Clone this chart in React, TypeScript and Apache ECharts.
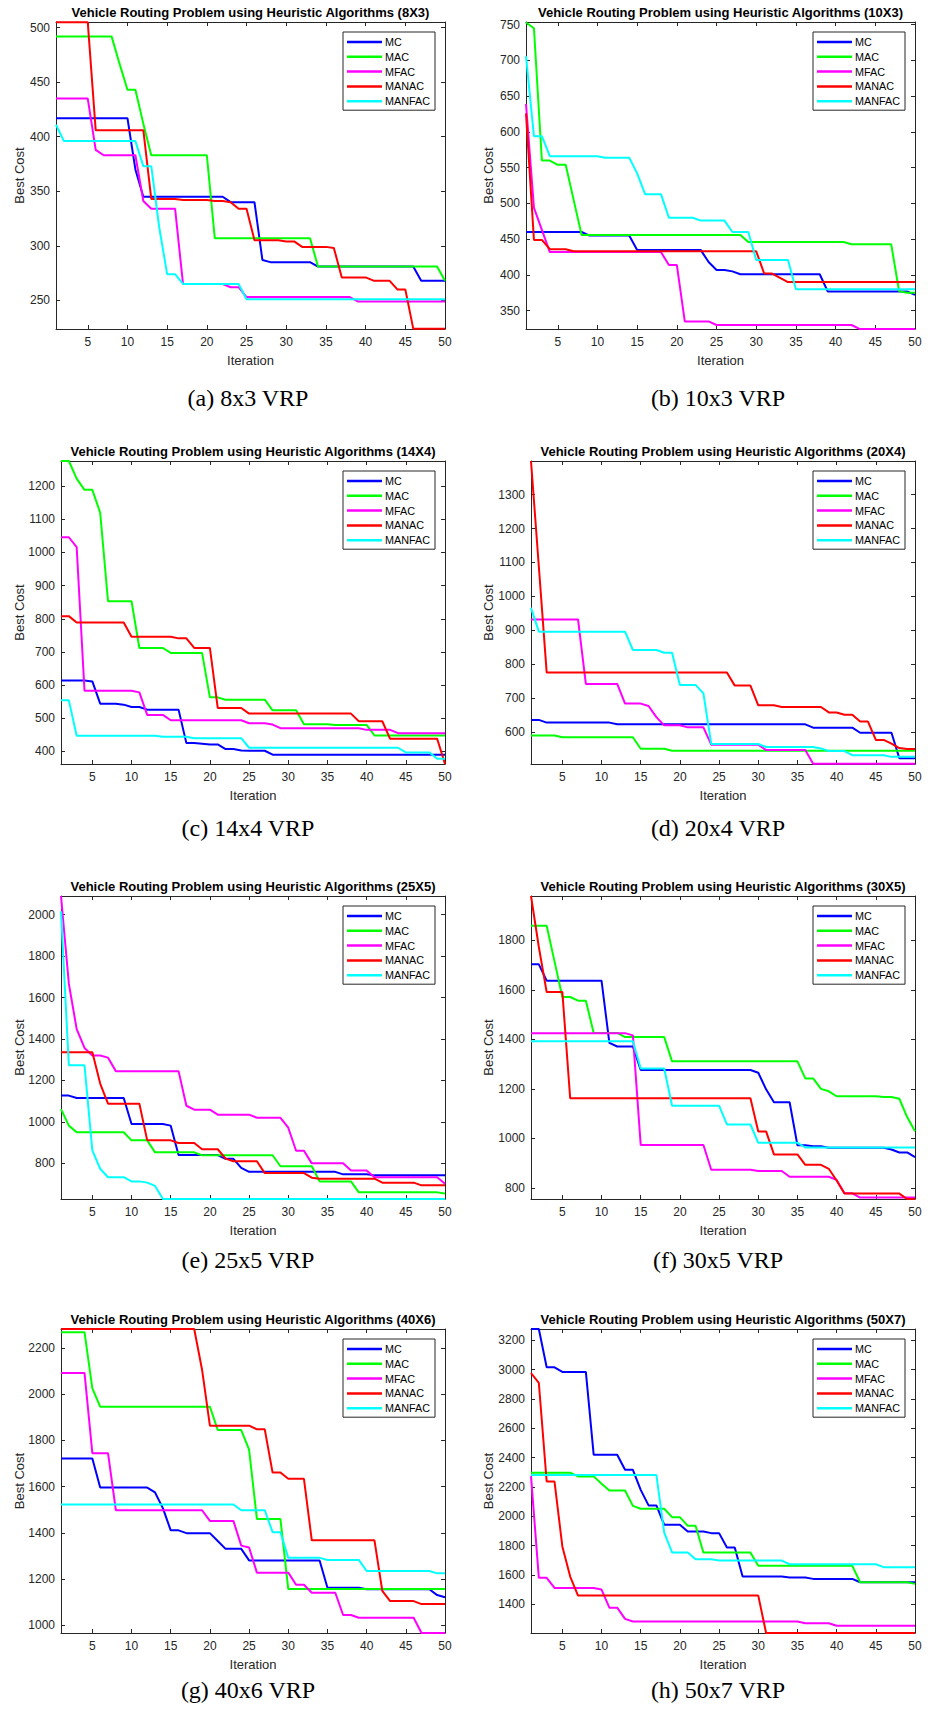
import React, { useEffect, useRef } from "react";
import * as echarts from "echarts";

const ITERATIONS = [1,2,3,4,5,6,7,8,9,10,11,12,13,14,15,16,17,18,19,20,21,22,23,24,25,26,27,28,29,30,31,32,33,34,35,36,37,38,39,40,41,42,43,44,45,46,47,48,49,50];
const X_TICKS = [5,10,15,20,25,30,35,40,45,50];
const SERIES_NAMES = ["MC","MAC","MFAC","MANAC","MANFAC"];
const SERIES_COLORS = ["#0000ff","#00ff00","#ff00ff","#ff0000","#00ffff"];
const TITLES = [
  "Vehicle Routing Problem using Heuristic Algorithms (8X3)",
  "Vehicle Routing Problem using Heuristic Algorithms (10X3)",
  "Vehicle Routing Problem using Heuristic Algorithms (14X4)",
  "Vehicle Routing Problem using Heuristic Algorithms (20X4)",
  "Vehicle Routing Problem using Heuristic Algorithms (25X5)",
  "Vehicle Routing Problem using Heuristic Algorithms (30X5)",
  "Vehicle Routing Problem using Heuristic Algorithms (40X6)",
  "Vehicle Routing Problem using Heuristic Algorithms (50X7)"
];
const CAPTIONS = ["(a) 8x3 VRP","(b) 10x3 VRP","(c) 14x4 VRP","(d) 20x4 VRP","(e) 25x5 VRP","(f) 30x5 VRP","(g) 40x6 VRP","(h) 50x7 VRP"];
const Y_MIN = [223.7, 324.4, 362, 506, 628, 755, 967, 1204];
const Y_MAX = [505.2, 753.7, 1276, 1399, 2090, 1979, 2282, 3277];
const Y_TICKS = [
  [250,300,350,400,450,500],
  [350,400,450,500,550,600,650,700,750],
  [400,500,600,700,800,900,1000,1100,1200],
  [600,700,800,900,1000,1100,1200,1300],
  [800,1000,1200,1400,1600,1800,2000],
  [800,1000,1200,1400,1600,1800],
  [1000,1200,1400,1600,1800,2000,2200],
  [1400,1600,1800,2000,2200,2400,2600,2800,3000,3200]
];

// (a) 8x3
const mc8x3 = [417,417,417,417,417,417,417,417,417,417, 370,345,345,345,345,345,345,345,345,345, 345,345,340,340,340,340,287,285,285,285, 285,285,285,281,281,281,281,281,281,281, 281,281,281,281,281,281,268,268,268,268];
const mac8x3 = [492,492,492,492,492,492,492,492,467,443, 443,412,383,383,383,383,383,383,383,383, 307,307,307,307,307,307,307,307,307,307, 307,307,307,281,281,281,281,281,281,281, 281,281,281,281,281,281,281,281,281,268];
const mfac8x3 = [435,435,435,435,435,388,383,383,383,383, 383,341,334,334,334,334,265,265,265,265, 265,265,262,262,253,253,253,253,253,253, 253,253,253,253,253,253,253,253,249,249, 249,249,249,249,249,249,249,249,249,249];
const manac8x3 = [505,505,505,505,505,406,406,406,406,406, 406,406,343,343,343,343,342,342,342,342, 341,341,340,334,334,305,305,305,305,304, 304,299,299,299,299,298,271,271,271,271, 268,268,268,260,260,224,224,224,224,224];
const manfac8x3 = [411,396,396,396,396,396,396,396,396,396, 396,373,373,317,274,274,265,265,265,265, 265,265,265,265,251,251,251,251,251,251, 251,251,251,251,251,251,251,251,251,251, 251,251,251,251,251,251,251,251,251,251];

// (b) 10x3
const mc10x3 = [460,460,460,460,460,460,460,460,455,455, 455,455,455,455,435,435,435,435,435,435, 435,435,435,418,407,407,405,401,401,401, 401,401,401,401,401,401,401,401,377,377, 377,377,377,377,377,377,377,377,377,372];
const mac10x3 = [753,745,560,560,554,554,505,456,456,456, 456,456,456,456,456,456,456,456,456,456, 456,456,456,456,456,456,456,456,446,446, 446,446,446,446,446,446,446,446,446,446, 446,443,443,443,443,443,443,377,375,375];
const mfac10x3 = [639,494,463,432,432,432,432,432,432,432, 432,432,432,432,432,432,432,432,414,414, 335,335,335,335,330,330,330,330,330,330, 330,330,330,330,330,330,330,330,330,330, 330,330,324.5,324.5,324.5,324.5,324.5,324.5,324.5,324.5];
const manac10x3 = [626,449,449,436,436,436,433,433,433,433, 433,433,433,433,433,433,433,433,433,433, 433,433,433,433,433,433,433,433,433,433, 402,402,396,390,390,390,390,390,390,390, 390,390,390,390,390,390,390,390,390,390];
const manfac10x3 = [706,594,594,566,566,566,566,566,566,566, 564,564,564,564,542,513,513,513,480,480, 480,480,476,476,476,476,460,460,460,421, 421,421,421,421,380,380,380,380,380,380, 380,380,380,380,380,380,380,380,380,380];

// (c) 14x4
const mc14x4 = [614,614,614,614,611,544,544,544,541,534, 534,526,526,526,526,526,425,425,423,421, 421,407,407,403,402,402,402,390,390,390, 390,390,390,390,390,390,390,390,390,390, 390,390,390,390,390,390,390,390,390,390];
const mac14x4 = [1276,1276,1223,1189,1189,1120,853,853,853,853, 712,712,712,712,697,697,697,697,697,563, 563,556,556,556,556,556,556,524,524,524, 524,482,482,482,482,480,480,480,480,480, 448,448,448,448,448,448,448,448,448,448];
const mfac14x4 = [1046,1046,1016,583,583,583,583,583,583,583, 578,510,510,510,494,494,494,494,494,494, 494,494,494,494,485,485,485,481,470,470, 470,470,470,470,470,470,470,470,470,465, 465,465,465,455,455,455,455,455,455,455];
const manac14x4 = [808,808,789,789,789,789,789,789,789,746, 746,746,746,746,746,741,741,712,712,712, 531,531,531,531,514,514,514,514,514,514, 514,514,514,514,514,514,514,514,491,491, 491,491,438,438,438,438,438,438,438,362];
const manfac14x4 = [554,554,447,447,447,447,447,447,447,447, 447,447,447,444,444,444,444,440,440,440, 440,440,440,440,411,411,411,411,411,411, 411,411,411,411,411,411,411,411,411,411, 411,411,411,411,397,397,397,397,378,378];

// (d) 20x4
const mc20x4 = [636,636,628,628,628,628,628,628,628,628, 628,623,623,623,623,623,623,623,623,623, 623,623,623,623,623,623,623,623,623,623, 623,623,623,623,623,623,613,613,613,613, 613,613,598,598,598,598,598,523,523,523];
const mac20x4 = [590,590,590,590,585,585,585,585,585,585, 585,585,585,585,551,551,551,551,545,545, 545,545,545,545,545,545,545,545,545,545, 545,545,545,545,545,545,545,545,545,545, 545,545,545,545,545,545,545,545,545,545];
const mfac20x4 = [932,932,932,932,932,932,932,742,742,742, 742,742,684,684,684,677,644,620,620,620, 614,614,614,563,563,563,563,563,563,563, 547,547,547,547,547,547,507,507,507,507, 507,507,507,507,507,507,507,507,507,507];
const manac20x4 = [1399,1088,776,776,776,776,776,776,776,776, 776,776,776,776,776,776,776,776,776,776, 776,776,776,776,776,776,737,737,737,679, 679,679,674,674,674,674,674,674,658,658, 651,651,631,631,577,577,566,553,550,550];
const manfac20x4 = [966,896,896,896,896,896,896,896,896,896, 896,896,896,842,842,842,842,834,834,739, 739,739,714,565,565,565,565,565,565,565, 556,556,556,556,556,556,556,552,544,544, 544,532,532,532,532,532,527,527,527,527];

// (e) 25x5
const mc25x5 = [1127,1127,1115,1115,1115,1115,1115,1115,1115,990, 990,990,990,990,982,840,840,840,840,840, 840,822,822,778,759,759,759,759,759,759, 759,759,759,759,759,759,747,747,747,747, 742,742,742,742,742,742,742,742,742,742];
const mac25x5 = [1062,982,950,950,950,950,950,950,950,911, 911,911,853,853,853,853,853,853,839,839, 839,839,839,839,839,839,839,839,786,786, 786,786,786,713,713,713,713,713,660,660, 660,660,660,660,660,660,660,660,660,654];
const mfac25x5 = [2090,1667,1448,1357,1320,1320,1310,1245,1245,1245, 1245,1245,1245,1245,1245,1245,1078,1059,1059,1059, 1035,1035,1035,1035,1035,1020,1020,1020,1020,972, 861,861,800,800,800,800,800,766,766,766, 733,733,733,733,733,733,733,733,733,702];
const manac25x5 = [1336,1336,1336,1336,1336,1185,1088,1088,1088,1088, 1088,911,911,911,911,898,898,898,868,868, 868,823,810,810,810,810,753,753,753,753, 753,753,731,726,726,726,726,726,726,726, 726,707,707,707,707,707,694,694,694,694];
const manfac25x5 = [2016,1273,1273,1273,863,774,733,733,733,713, 713,707,691,628,628,628,628,628,628,628, 628,628,628,628,628,628,628,628,628,628, 628,628,628,628,628,628,628,628,628,628, 628,628,628,628,628,628,628,628,628,628];

// (f) 30x5
const mc30x5 = [1703,1703,1637,1637,1637,1637,1637,1637,1637,1637, 1386,1371,1371,1371,1276,1276,1276,1276,1276,1276, 1276,1276,1276,1276,1276,1276,1276,1276,1276,1265, 1198,1146,1146,1146,972,972,968,968,962,962, 962,962,962,962,962,962,955,943,943,924];
const mac30x5 = [1859,1859,1859,1715,1571,1571,1556,1556,1426,1426, 1426,1426,1409,1409,1409,1409,1409,1409,1311,1311, 1311,1311,1311,1311,1311,1311,1311,1311,1311,1311, 1311,1311,1311,1311,1311,1242,1242,1200,1190,1170, 1170,1170,1170,1170,1170,1167,1167,1160,1086,1029];
const mfac30x5 = [1425,1425,1425,1425,1425,1425,1425,1425,1425,1425, 1425,1425,1425,1416,973,973,973,973,973,973, 973,973,973,873,873,873,873,873,873,868, 868,868,868,845,845,845,845,845,845,832, 778,778,761,761,761,761,761,761,761,761];
const manac30x5 = [1979,1773,1591,1591,1591,1162,1162,1162,1162,1162, 1162,1162,1162,1162,1162,1162,1162,1162,1162,1162, 1162,1162,1162,1162,1162,1162,1162,1162,1162,1028, 1028,935,935,935,935,893,893,893,877,830, 777,777,777,777,777,777,777,777,755,755];
const manfac30x5 = [1392,1392,1392,1392,1392,1392,1392,1392,1392,1392, 1392,1392,1392,1392,1282,1282,1282,1282,1132,1132, 1132,1132,1132,1132,1132,1056,1056,1056,1056,982, 982,982,982,982,982,963,963,963,963,963, 963,963,963,963,963,963,963,963,963,963];

// (g) 40x6
const mc40x6 = [1722,1722,1722,1722,1722,1596,1596,1596,1596,1596, 1596,1596,1575,1507,1411,1411,1399,1399,1399,1399, 1365,1331,1331,1331,1281,1281,1281,1281,1281,1281, 1281,1281,1281,1281,1163,1163,1163,1163,1163,1156, 1156,1156,1156,1156,1156,1156,1156,1156,1131,1122];
const mac40x6 = [2268,2268,2268,2268,2025,1946,1946,1946,1946,1946, 1946,1946,1946,1946,1946,1946,1946,1946,1946,1946, 1845,1845,1845,1845,1760,1460,1460,1460,1460,1157, 1157,1157,1157,1157,1157,1157,1157,1157,1157,1157, 1157,1157,1157,1157,1157,1157,1157,1157,1157,1157];
const mfac40x6 = [2092,2092,2092,2092,1745,1745,1745,1498,1498,1498, 1498,1498,1498,1498,1498,1498,1498,1498,1498,1452, 1452,1452,1452,1345,1337,1228,1228,1228,1228,1228, 1176,1176,1141,1141,1141,1141,1045,1045,1033,1033, 1033,1033,1033,1033,1033,1033,967,967,967,967];
const manac40x6 = [2282,2282,2282,2282,2282,2282,2282,2282,2282,2282, 2282,2282,2282,2282,2282,2282,2282,2282,2106,1864, 1864,1864,1864,1864,1864,1848,1848,1661,1661,1634, 1634,1634,1368,1368,1368,1368,1368,1368,1368,1368, 1368,1149,1105,1105,1105,1105,1092,1092,1092,1092];
const manfac40x6 = [1523,1523,1523,1523,1523,1523,1523,1523,1523,1523, 1523,1523,1523,1523,1523,1523,1523,1523,1523,1523, 1523,1523,1523,1498,1498,1498,1498,1403,1403,1292, 1292,1292,1292,1292,1283,1283,1283,1283,1283,1235, 1235,1235,1235,1235,1235,1235,1235,1235,1225,1225];

// (h) 50x7
const mc50x7 = [3277,3277,3016,3016,2984,2984,2984,2984,2419,2419, 2419,2419,2317,2317,2180,2074,2074,1942,1942,1942, 1896,1896,1896,1885,1885,1787,1787,1589,1589,1589, 1589,1589,1589,1582,1582,1582,1573,1573,1573,1573, 1573,1573,1550,1550,1550,1550,1550,1550,1550,1550];
const mac50x7 = [2297,2297,2297,2297,2297,2297,2272,2272,2272,2222, 2176,2176,2176,2071,2051,2051,2051,2051,1994,1994, 1935,1935,1753,1753,1753,1753,1753,1753,1753,1662, 1662,1662,1662,1662,1662,1662,1662,1662,1662,1662, 1662,1662,1550,1550,1550,1550,1550,1550,1550,1539];
const mfac50x7 = [2274,1580,1580,1511,1511,1511,1511,1511,1511,1500, 1377,1377,1300,1282,1282,1282,1282,1282,1282,1282, 1282,1282,1282,1282,1282,1282,1282,1282,1282,1282, 1282,1282,1282,1282,1282,1270,1270,1270,1270,1254, 1254,1254,1254,1254,1254,1254,1254,1254,1254,1254];
const manac50x7 = [2977,2909,2237,2237,1794,1589,1459,1459,1459,1459, 1459,1459,1459,1459,1459,1459,1459,1459,1459,1459, 1459,1459,1459,1459,1459,1459,1459,1459,1459,1459, 1204,1204,1204,1204,1204,1204,1204,1204,1204,1204, 1204,1204,1204,1204,1204,1204,1204,1204,1204,1204];
const manfac50x7 = [2281,2281,2281,2281,2281,2281,2281,2281,2281,2281, 2281,2281,2281,2281,2281,2281,2281,1889,1753,1753, 1753,1707,1707,1707,1698,1698,1698,1698,1698,1698, 1698,1698,1698,1673,1673,1673,1673,1673,1673,1673, 1673,1673,1673,1673,1673,1653,1653,1653,1653,1653];

const PANEL_SERIES = [
  [mc8x3, mac8x3, mfac8x3, manac8x3, manfac8x3],
  [mc10x3, mac10x3, mfac10x3, manac10x3, manfac10x3],
  [mc14x4, mac14x4, mfac14x4, manac14x4, manfac14x4],
  [mc20x4, mac20x4, mfac20x4, manac20x4, manfac20x4],
  [mc25x5, mac25x5, mfac25x5, manac25x5, manfac25x5],
  [mc30x5, mac30x5, mfac30x5, manac30x5, manfac30x5],
  [mc40x6, mac40x6, mfac40x6, manac40x6, manfac40x6],
  [mc50x7, mac50x7, mfac50x7, manac50x7, manfac50x7]
];

// layout (pixels)
const W = 930;
const H = 1709;
const GRIDS = [
  { left: 56, top: 22, width: 389, height: 307 },
  { left: 526, top: 22, width: 389, height: 307 },
  { left: 61, top: 461, width: 384, height: 303 },
  { left: 531, top: 461, width: 384, height: 303 },
  { left: 61, top: 896, width: 384, height: 303 },
  { left: 531, top: 896, width: 384, height: 303 },
  { left: 61, top: 1329, width: 384, height: 304 },
  { left: 531, top: 1329, width: 384, height: 304 }
];
const YLABEL_GAP = [37, 38, 42, 43, 42, 43, 42, 43];
const CAPTION_POS = [[248, 398], [718, 398], [248, 828], [718, 828], [248, 1260], [718, 1260], [248, 1690], [718, 1690]];

const SANS = "'Liberation Sans', Arial, Helvetica, sans-serif";
const SERIF = "'Liberation Serif', 'DejaVu Serif', serif";
const AX = "#262626";

function plain(v: number) {
  return String(v);
}

function buildOption() {
  const grid: any[] = [];
  const xAxis: any[] = [];
  const yAxis: any[] = [];
  const series: any[] = [];
  const legend: any[] = [];
  const graphic: any[] = [];

  GRIDS.forEach((g, k) => {
    grid.push({ left: g.left, top: g.top, width: g.width, height: g.height, containLabel: false, show: false });
    const tickCommon = { show: true, inside: true, length: 4, lineStyle: { color: AX, width: 1 } };
    xAxis.push({
      type: "value", gridIndex: k, min: 1, max: 50, position: "bottom",
      axisLine: { show: true, onZero: false, lineStyle: { color: AX, width: 1 } },
      axisTick: { ...tickCommon, customValues: X_TICKS },
      axisLabel: { show: true, customValues: X_TICKS, formatter: plain, margin: 7, fontSize: 12, color: AX, fontFamily: SANS },
      splitLine: { show: false }
    });
    xAxis.push({
      type: "value", gridIndex: k, min: 1, max: 50, position: "top",
      axisLine: { show: true, onZero: false, lineStyle: { color: AX, width: 1 } },
      axisTick: { ...tickCommon, customValues: X_TICKS },
      axisLabel: { show: false },
      splitLine: { show: false }
    });
    yAxis.push({
      type: "value", gridIndex: k, min: Y_MIN[k], max: Y_MAX[k], position: "left",
      axisLine: { show: true, onZero: false, lineStyle: { color: AX, width: 1 } },
      axisTick: { ...tickCommon, customValues: Y_TICKS[k] },
      axisLabel: { show: true, customValues: Y_TICKS[k], formatter: plain, margin: 6, fontSize: 12, color: AX, fontFamily: SANS },
      splitLine: { show: false }
    });
    yAxis.push({
      type: "value", gridIndex: k, min: Y_MIN[k], max: Y_MAX[k], position: "right",
      axisLine: { show: true, onZero: false, lineStyle: { color: AX, width: 1 } },
      axisTick: { ...tickCommon, customValues: Y_TICKS[k] },
      axisLabel: { show: false },
      splitLine: { show: false }
    });

    PANEL_SERIES[k].forEach((vals, s) => {
      series.push({
        type: "line",
        name: SERIES_NAMES[s],
        xAxisIndex: 2 * k,
        yAxisIndex: 2 * k,
        data: ITERATIONS.map((it, i) => [it, vals[i]]),
        showSymbol: false,
        symbol: "none",
        lineStyle: { color: SERIES_COLORS[s], width: 2 },
        itemStyle: { color: SERIES_COLORS[s] },
        color: SERIES_COLORS[s],
        clip: true,
        z: 2 + s * 0.01,
        silent: true
      });
    });

    legend.push({
      data: SERIES_NAMES,
      orient: "vertical",
      right: W - (g.left + g.width - 10),
      top: g.top + 10,
      icon: "rect",
      itemWidth: 35,
      itemHeight: 2.5,
      itemGap: 2.8,
      padding: [4, 5, 3, 4],
      borderColor: AX,
      borderWidth: 1,
      borderRadius: 0,
      backgroundColor: "#ffffff",
      selectedMode: false,
      textStyle: { fontSize: 10.8, color: "#000", fontFamily: SANS, lineHeight: 12, padding: [0, 0, 0, -2] },
      z: 10
    });

    const cx = g.left + g.width / 2;
    const cy = g.top + g.height / 2;
    graphic.push({
      type: "text", x: cx, y: g.top - 10, z: 20,
      style: { text: TITLES[k], fill: "#000", fontSize: 13, fontWeight: "bold", fontFamily: SANS, align: "center", verticalAlign: "middle", textAlign: "center", textVerticalAlign: "middle" }
    });
    graphic.push({
      type: "text", x: g.left - YLABEL_GAP[k], y: cy, rotation: Math.PI / 2, z: 20,
      style: { text: "Best Cost", fill: AX, fontSize: 13, fontFamily: SANS, align: "center", verticalAlign: "middle", textAlign: "center", textVerticalAlign: "middle" }
    });
    graphic.push({
      type: "text", x: cx, y: g.top + g.height + 31, z: 20,
      style: { text: "Iteration", fill: AX, fontSize: 13, fontFamily: SANS, align: "center", verticalAlign: "middle", textAlign: "center", textVerticalAlign: "middle" }
    });
    graphic.push({
      type: "text", x: CAPTION_POS[k][0], y: CAPTION_POS[k][1], z: 20,
      style: { text: CAPTIONS[k], fill: "#000", fontSize: 24, fontFamily: SERIF, align: "center", verticalAlign: "middle", textAlign: "center", textVerticalAlign: "middle" }
    });
  });

  return {
    animation: false,
    backgroundColor: "#ffffff",
    grid, xAxis, yAxis, series, legend, graphic
  };
}

export default function App() {
  const ref = useRef<HTMLDivElement | null>(null);
  useEffect(() => {
    if (!ref.current) return;
    const chart = echarts.init(ref.current, undefined, { renderer: "svg", width: W, height: H });
    chart.setOption(buildOption() as any);
    return () => chart.dispose();
  }, []);
  return (
    <div
      ref={ref}
      style={{ position: "absolute", left: 0, top: 0, width: W, height: H, background: "#ffffff" }}
    />
  );
}
